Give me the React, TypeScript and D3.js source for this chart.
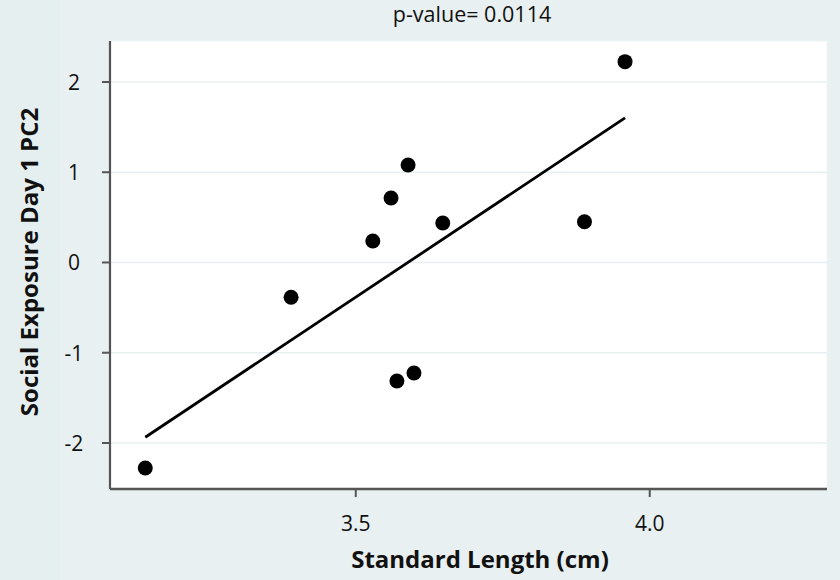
import React from "react";
import * as d3 from "d3";

const lengths: number[] = [3.142, 3.390, 3.529, 3.560, 3.589, 3.570, 3.599, 3.648, 3.889, 3.958];
const pc2: number[] = [-2.277, -0.386, 0.238, 0.715, 1.08, -1.313, -1.224, 0.438, 0.452, 2.225];
const xTicks: number[] = [3.5, 4.0];
const yTicks: number[] = [-2, -1, 0, 1, 2];
const title = "p-value= 0.0114";
const xTitle = "Standard Length (cm)";
const yTitle = "Social Exposure Day 1 PC2";

const W = 840, H = 580;
const left = 110, right = 827, top = 41, bottom = 489;

export default function App() {
  const x = d3.scaleLinear().domain([3.082, 4.3015]).range([left, right]);
  const y = d3.scaleLinear().domain([-2.51, 2.454]).range([bottom, top]);

  const mx = d3.mean(lengths)!;
  const my = d3.mean(pc2)!;
  let sxy = 0, sxx = 0;
  lengths.forEach((v, i) => { sxy += (v - mx) * (pc2[i] - my); sxx += (v - mx) * (v - mx); });
  const slope = sxy / sxx;
  const icpt = my - slope * mx;
  const [x0, x1] = d3.extent(lengths) as [number, number];
  const fit: [number, number][] = [[x0, icpt + slope * x0], [x1, icpt + slope * x1]];
  const line = d3.line<[number, number]>().x(d => x(d[0])).y(d => y(d[1]));

  const font = "'Open Sans', Lato, sans-serif";
  const axisColor = "#555";

  return (
    <svg width={W} height={H} style={{ position: "absolute", left: 0, top: 0 }} fontFamily={font}>
      <rect x={0} y={0} width={W} height={H} fill="#e8f0f1" />
      <rect x={0} y={0} width={60} height={H} fill="#e6eff0" />
      <rect x={left} y={top} width={right - left} height={bottom - top} fill="#ffffff" stroke="#eef3f4" strokeWidth={1} />
      {yTicks.map(t => (
        <line key={"g" + t} x1={left} x2={right} y1={y(t)} y2={y(t)} stroke="#e9eff1" strokeWidth={1.5} />
      ))}
      {yTicks.map(t => (
        <g key={"yt" + t}>
          <line x1={left - 8} x2={left} y1={y(t)} y2={y(t)} stroke={axisColor} strokeWidth={2} />
          <text x={74} y={y(t)} textAnchor="middle" dominantBaseline="central" fontSize={21} fill="#111">{t < 0 ? "-" + Math.abs(t) : String(t)}</text>
        </g>
      ))}
      {xTicks.map(t => (
        <g key={"xt" + t}>
          <line x1={x(t)} x2={x(t)} y1={bottom} y2={bottom + 8} stroke={axisColor} strokeWidth={2} />
          <text x={x(t)} y={523} textAnchor="middle" dominantBaseline="central" fontSize={21} fill="#111">{t.toFixed(1)}</text>
        </g>
      ))}
      <line x1={left} x2={left} y1={top} y2={bottom} stroke={axisColor} strokeWidth={2.2} />
      <line x1={left} x2={right} y1={bottom} y2={bottom} stroke={axisColor} strokeWidth={2.4} />
      <path d={line(fit) || ""} fill="none" stroke="#000" strokeWidth={2.8} />
      {lengths.map((v, i) => (
        <circle key={i} cx={x(v)} cy={y(pc2[i])} r={7.5} fill="#000" />
      ))}
      <text x={472} y={13} textAnchor="middle" dominantBaseline="central" fontSize={21.5} fill="#111">{title}</text>
      <text x={480} y={558} textAnchor="middle" dominantBaseline="central" fontSize={24} fontWeight="bold" fill="#111">{xTitle}</text>
      <text transform={`translate(28,262) rotate(-90)`} textAnchor="middle" dominantBaseline="central" fontSize={24} fontWeight="bold" fill="#111">{yTitle}</text>
    </svg>
  );
}
